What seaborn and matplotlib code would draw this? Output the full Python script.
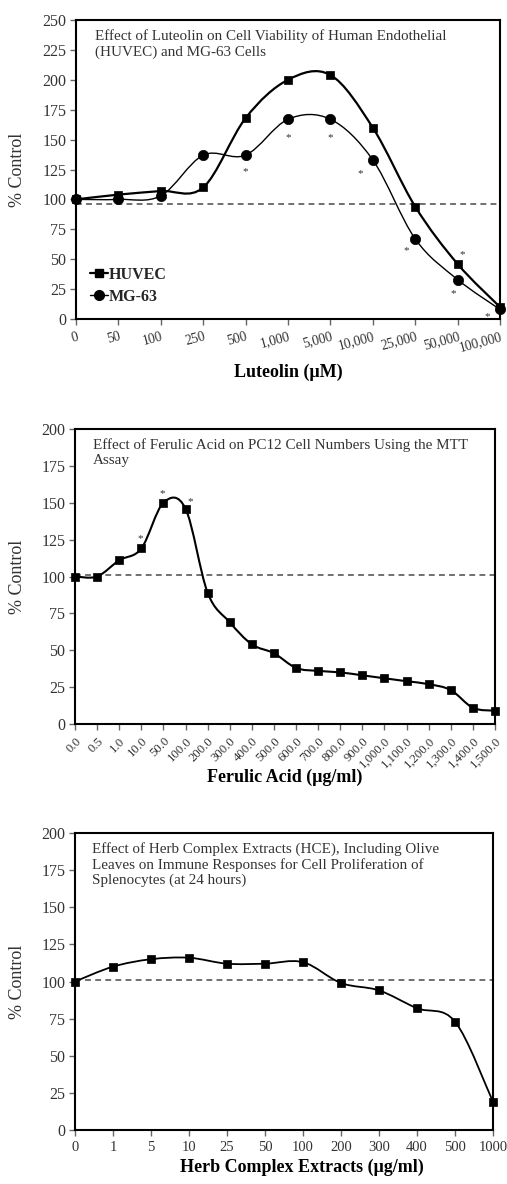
import numpy as np
import matplotlib
matplotlib.use("Agg")
import matplotlib.pyplot as plt
import seaborn as sns
from matplotlib.path import Path
from matplotlib.patches import PathPatch
from matplotlib.lines import Line2D

# ---------------- data ----------------
lut_doses = ['0', '50', '100', '250', '500', '1,000', '5,000', '10,000',
             '25,000', '50,000', '100,000']
huvec = [100, 104, 107, 110, 168, 200, 204, 160, 94, 46, 10]
mg63 = [100, 100, 103, 137, 137, 167, 167, 133, 67, 33, 8]
lut_star_x = [4, 5, 6, 6.71, 7.78, 9.1, 8.89, 9.71]
lut_star_y = [126, 155, 155, 125, 60, 57, 24, 5]
lut_ref = 96

fer_doses = ['0.0', '0.5', '1.0', '10.0', '50.0', '100.0', '200.0', '300.0',
             '400.0', '500.0', '600.0', '700.0', '800.0', '900.0', '1,000.0',
             '1,100.0', '1,200.0', '1,300.0', '1,400.0', '1,500.0']
ferulic = [100, 100, 111, 119, 150, 146, 89, 69, 54, 48, 38, 36, 35, 33, 31,
           29, 27, 23, 11, 9]
fer_star_x = [2.94, 3.95, 5.2]
fer_star_y = [128, 159, 153]
fer_ref = 101

herb_doses = ['0', '1', '5', '10', '25', '50', '100', '200', '300', '400',
              '500', '1000']
herb = [100, 110, 115, 116, 112, 112, 113, 99, 94, 82, 73, 19]
herb_ref = 101

titles = [
    "Effect of Luteolin on Cell Viability of Human Endothelial\n(HUVEC) and MG-63 Cells",
    "Effect of Ferulic Acid on PC12 Cell Numbers Using the MTT\nAssay",
    "Effect of Herb Complex Extracts (HCE), Including Olive\nLeaves on Immune Responses for Cell Proliferation of\nSplenocytes (at 24 hours)",
]
xlabels = ["Luteolin (\u03bcM)", "Ferulic Acid (\u03bcg/ml)",
           "Herb Complex Extracts (\u03bcg/ml)"]

# ---------------- style ----------------
sns.set_theme(style="white")
plt.rcParams['font.family'] = ['Liberation Serif', 'DejaVu Serif']
plt.rcParams['axes.linewidth'] = 1.5

TXT = '#333333'


def smooth_path(xs, ys):
    pts = np.column_stack([np.asarray(xs, float), np.asarray(ys, float)])
    n = len(pts)
    verts = [pts[0]]
    codes = [Path.MOVETO]
    for i in range(n - 1):
        p0 = pts[i - 1] if i > 0 else pts[i]
        p1 = pts[i]
        p2 = pts[i + 1]
        p3 = pts[i + 2] if i + 2 < n else pts[i + 1]
        c1 = p1 + (p2 - p0) / 6.0
        c2 = p2 - (p3 - p1) / 6.0
        verts += [c1, c2, p2]
        codes += [Path.CURVE4] * 3
    return Path(verts, codes)


def draw_curve(ax, vals, lw, marker, msize):
    xs = np.arange(len(vals))
    patch = PathPatch(smooth_path(xs, vals), facecolor='none',
                      edgecolor='black', lw=lw, zorder=4, clip_on=False)
    ax.add_patch(patch)
    sns.scatterplot(x=xs, y=vals, marker=marker, s=msize, color='black',
                    edgecolor='black', linewidth=0.5, ax=ax, zorder=5,
                    clip_on=False, legend=False)


def setup(ax, labels, ymax, ystep, ref, rot, xfs, title, xlabel,
          xlab_pos, title_pos):
    n = len(labels)
    ax.set_xlim(0, n - 1)
    ax.set_ylim(0, ymax)
    ax.set_yticks(np.arange(0, ymax + 1, ystep))
    ax.set_xticks(np.arange(n))
    if rot:
        ax.set_xticklabels(labels, rotation=rot, ha='right',
                           rotation_mode='anchor', fontsize=xfs, color=TXT)
    else:
        ax.set_xticklabels(labels, fontsize=xfs, color=TXT)
    for lab in ax.get_yticklabels():
        lab.set_fontsize(11.5)
        lab.set_color(TXT)
    ax.tick_params(axis='y', direction='out', length=4, width=1,
                   color='#666666', pad=3, left=True)
    ax.tick_params(axis='x', direction='out', length=4, width=1,
                   color='#666666', pad=4, bottom=True)
    for sp in ax.spines.values():
        sp.set_color('black')
        sp.set_linewidth(1.5)
        sp.set_visible(True)
    ax.axhline(ref, color='#707070', lw=1.4, ls=(0, (3, 2.2)), zorder=2)
    ax.set_ylabel('% Control', fontsize=13, color=TXT)
    ax.yaxis.set_label_coords(-0.137, 0.5)
    ax.yaxis.label.set_va('center')
    ax.set_xlabel(xlabel, fontsize=13, fontweight='bold', color='black')
    ax.xaxis.set_label_coords(*xlab_pos)
    ax.xaxis.label.set_va('center')
    ax.text(title_pos[0], title_pos[1], title, transform=ax.transAxes,
            ha='left', va='top', fontsize=10.9, color=TXT, linespacing=1.2)


fig = plt.figure(figsize=(5.07, 11.84), dpi=100)
W, H = 507.0, 1184.0


def make_axes(l, r, t, b):
    return fig.add_axes([l / W, 1 - b / H, (r - l) / W, (b - t) / H])


# ---------- panel 1 ----------
ax1 = make_axes(76, 500, 20, 319)
setup(ax1, lut_doses, 250, 25, lut_ref, 15, 9.8, titles[0], xlabels[0],
      (0.501, -0.18), (0.045, 0.968))
draw_curve(ax1, huvec, 1.6, 's', 30)
draw_curve(ax1, mg63, 1.0, 'o', 55)
for x, y in zip(lut_star_x, lut_star_y):
    ax1.annotate('*', (x, y), xytext=(0, -4.5), textcoords='offset points',
                 ha='center', va='baseline', fontsize=8, color=TXT)
handles = [Line2D([], [], color='black', lw=1.6, marker='s', markersize=5.5),
           Line2D([], [], color='black', lw=1.0, marker='o', markersize=7)]
leg = ax1.legend(handles, ['HUVEC', 'MG-63'], loc='lower left',
                 bbox_to_anchor=(0.0, 0.0), frameon=False, handlelength=1.1,
                 handletextpad=0.05, labelspacing=0.35,
                 prop={'weight': 'bold', 'size': 11.5})

# ---------- panel 2 ----------
ax2 = make_axes(75, 495, 429, 724)
setup(ax2, fer_doses, 200, 25, fer_ref, 45, 9.2, titles[1], xlabels[1],
      (0.5, -0.18), (0.042, 0.968))
draw_curve(ax2, ferulic, 1.5, 's', 30)
for x, y in zip(fer_star_x, fer_star_y):
    ax2.annotate('*', (x, y), xytext=(0, -4.5), textcoords='offset points',
                 ha='center', va='baseline', fontsize=8, color=TXT)

# ---------- panel 3 ----------
ax3 = make_axes(75, 493, 833, 1130)
setup(ax3, herb_doses, 200, 25, herb_ref, 0, 10.5, titles[2], xlabels[2],
      (0.542, -0.125), (0.04, 0.97))
draw_curve(ax3, herb, 1.3, 's', 26)

fig.savefig('out.png', dpi=100)
